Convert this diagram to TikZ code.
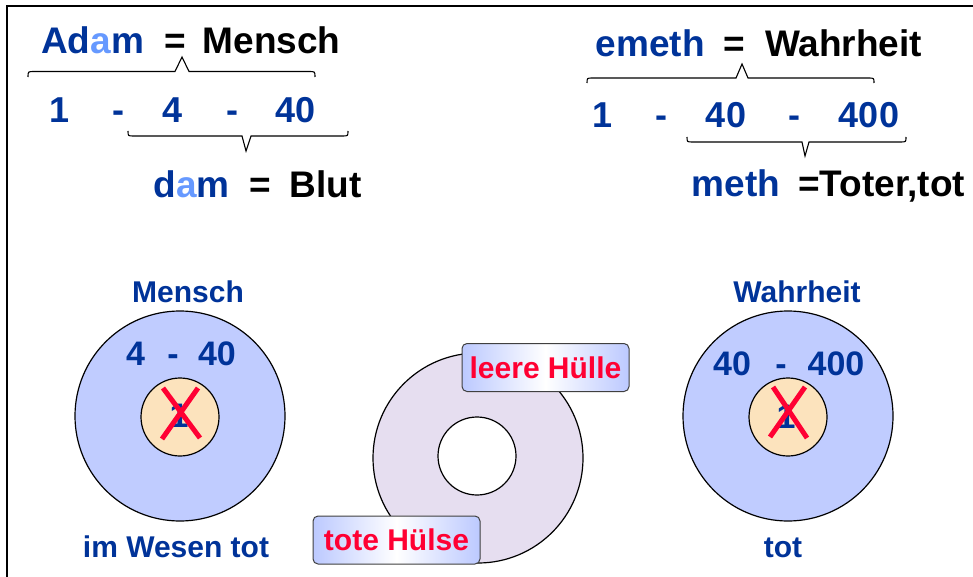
\documentclass[tikz,border=0pt]{standalone}
\usepackage{fontspec}
\setmainfont{Liberation Sans}
\usepackage{xcolor}
\usepackage{tikz}
\usetikzlibrary{positioning}
\definecolor{hebblue}{HTML}{003399}
\definecolor{vowelblue}{HTML}{6699FF}
\definecolor{discblue}{HTML}{C0CCFF}
\definecolor{corepeach}{HTML}{FCE3BD}
\definecolor{shellgray}{HTML}{E6DEF0}
\definecolor{tagblue}{HTML}{BCC9FF}
\definecolor{crossred}{HTML}{FF0033}

\begin{document}
\begin{tikzpicture}[
    x=1pt, y=-1pt,
    word/.style={font=\fontsize{37}{40}\selectfont\bfseries, inner sep=0pt, anchor=base west},
    num/.style={font=\fontsize{36}{40}\selectfont\bfseries, text=hebblue, inner sep=0pt, anchor=base},
    caption/.style={font=\fontsize{30}{34}\selectfont\bfseries, text=hebblue, inner sep=0pt, anchor=base},
    digits/.style={font=\fontsize{34}{38}\selectfont\bfseries, text=hebblue, inner sep=0pt, anchor=base},
    disc/.style={circle, draw, line width=1.2pt, fill=discblue, minimum size=210pt, inner sep=0pt},
    core/.style={circle, draw, line width=1.2pt, fill=corepeach, minimum size=78pt, inner sep=0pt},
    cross/.style={draw=crossred, line width=5pt},
    brace/.style={draw, line width=1.1pt},
    tagbox/.style={rectangle, rounded corners=5pt, draw=black!75, line width=1pt,
                   left color=tagblue, right color=tagblue, middle color=white,
                   minimum width=167pt, minimum height=48pt, inner sep=0pt,
                   text=crossred, font=\fontsize{30}{34}\selectfont\bfseries},
]
    \useasboundingbox (0,0) rectangle (973,577);
    \draw[line width=2.5pt] (7,577) -- (7,6) -- (973,6);

    % Adam / dam
    \node[word, text=hebblue] (adam) at (41,54) {Ad\textcolor{vowelblue}{a}m};
    \node[word] (eqa) at (164,54) {=};
    \node[word] (mensch) at (202.5,54) {Mensch};
    \draw[brace] (28,77) .. controls (28,71.5) .. (34,71.5) -- (175,71.5) -- (182,57)
        -- (189,71.5) -- (309,71.5) .. controls (315,71.5) .. (315,77);

    \node[num] (a1) at (60,123) {1};
    \node[num] (ad1) at (118,123) {-};
    \node[num] (a4) at (173,123) {4};
    \node[num] (ad2) at (232,123) {-};
    \node[num] (a40) at (296,123) {40};
    \draw[brace] (128,131) .. controls (128,136) .. (134,136) -- (242,136) -- (246,151)
        -- (251,136) -- (342,136) .. controls (348,136) .. (348,131);

    \node[word, text=hebblue] (dam) at (153.5,198) {d\textcolor{vowelblue}{a}m};
    \node[word] (eqd) at (249.5,198) {=};
    \node[word] (blut) at (289.5,198) {Blut};

    % emeth / meth
    \node[word, text=hebblue] (emeth) at (595.5,57) {emeth};
    \node[word] (eqe) at (723.5,57) {=};
    \node[word] (wahrheit) at (765,57) {Wahrheit};
    \draw[brace] (587,83) .. controls (587,78) .. (593,78) -- (736,78) -- (742,64)
        -- (748,78) -- (868,78) .. controls (874,78) .. (874,83);

    \node[num] (e1) at (603,128) {1};
    \node[num] (ed1) at (661,128) {-};
    \node[num] (e40) at (726,128) {40};
    \node[num] (ed2) at (794,128) {-};
    \node[num] (e400) at (869,128) {400};
    \draw[brace] (687,137) .. controls (687,142) .. (693,142) -- (802,142) -- (805,156)
        -- (809,142) -- (900,142) .. controls (906,142) .. (906,137);

    \node[word, text=hebblue] (meth) at (691.5,197) {meth};
    \node[word] (toter) at (798,197) {=Toter,tot};

    % left disc
    \node[caption] (menschlbl) at (188,302) {Mensch};
    \node[disc] (ldisc) at (180,416) {};
    \node[core] (lcore) at (180,417) {};
    \node[digits] (l4) at (135.5,365) {4};
    \node[digits] (ld) at (173,365) {-};
    \node[digits] (l40) at (217,365) {40};
    \node[digits] (lone) at (179,427) {1};
    \draw[cross] (163,388) -- (200,438);
    \draw[cross] (198,388) -- (162,439);
    \node[caption] (wesen) at (176,557) {im Wesen tot};

    % right disc
    \node[caption] (wahrlbl) at (797,302) {Wahrheit};
    \node[disc] (rdisc) at (788,416) {};
    \node[core] (rcore) at (788,417) {};
    \node[digits] (r40) at (732,375) {40};
    \node[digits] (rd) at (781,375) {-};
    \node[digits] (r400) at (836,375) {400};
    \node[digits] (rone) at (786,428) {1};
    \draw[cross] (773,387) -- (807,438);
    \draw[cross] (805,387) -- (770,437);
    \node[caption] (totlbl) at (783,557) {tot};

    % empty shell
    \draw[line width=1.2pt, fill=shellgray, even odd rule]
        (478,458) circle (105) (477,456) circle (39);
    \node[tagbox] (leere) at (545.5,367.5) {leere Hülle};
    \node[tagbox] (tote) at (396.5,540) {tote Hülse};
\end{tikzpicture}
\end{document}
